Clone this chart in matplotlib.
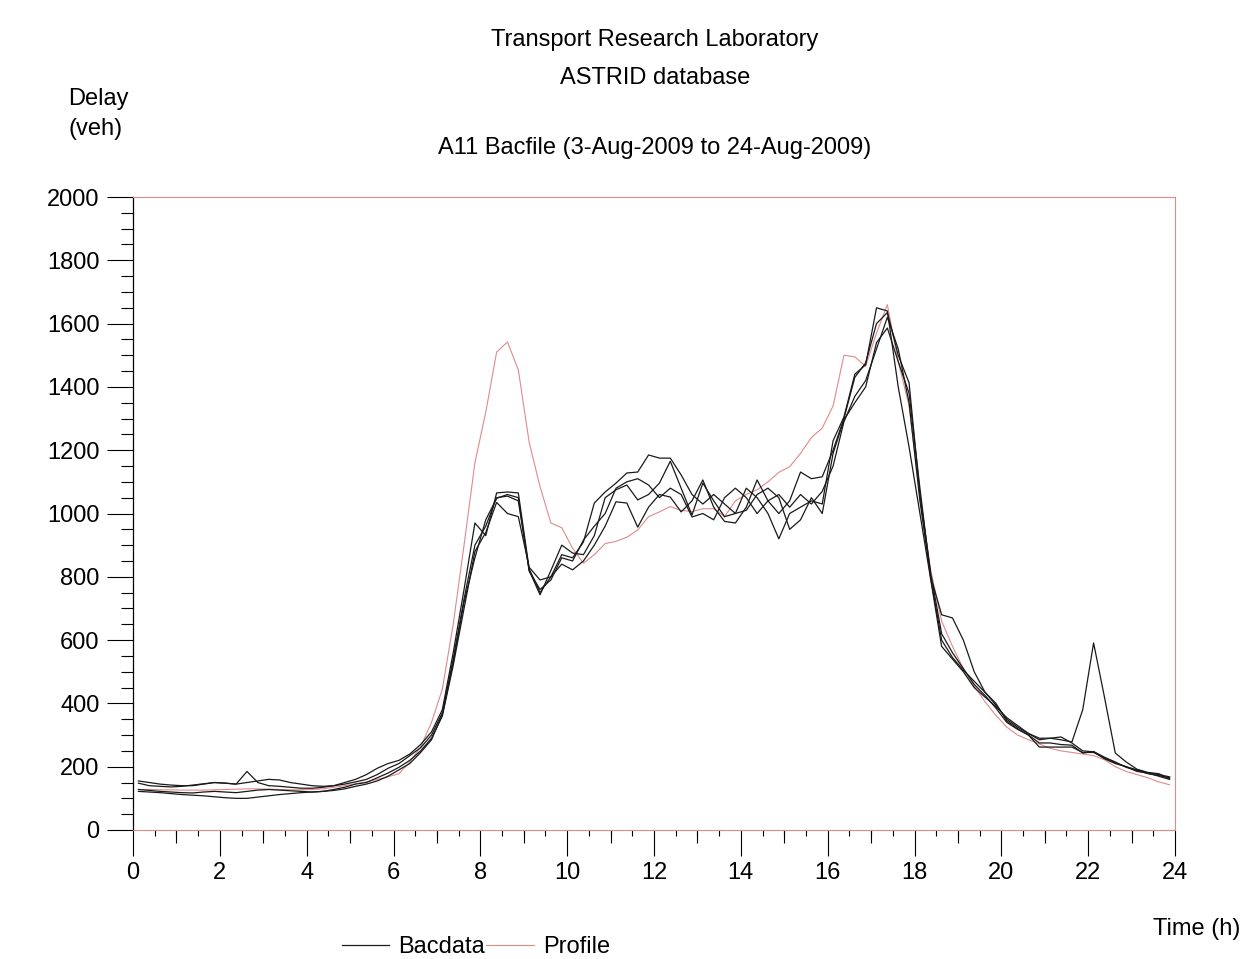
import numpy as np
from matplotlib import pyplot as plt

plt.rcParams['font.family'] = ['Liberation Sans', 'DejaVu Sans']

# 15 minute intervals, mid-points
time_h = np.arange(96) * 0.25 + 0.125

# Bacdata days (delay, veh), four per hour
bac_1 = [155, 150, 145, 142, 140, 140, 145, 150, 148, 145, 185, 150,
         140, 138, 135, 132, 132, 135, 140, 150, 160, 175, 195, 210,
         220, 240, 270, 310, 380, 560, 760, 970, 930, 1065, 1068, 1065,
         825, 750, 800, 870, 860, 910, 1033, 1068, 1096, 1128, 1131, 1185,
         1175, 1175, 1122, 1060, 1030, 1060, 1030, 1000, 1080, 1050, 1000, 920,
         1000, 1020, 1040, 1030, 1230, 1305, 1440, 1470, 1650, 1640, 1400, 1210,
         1000, 790, 580, 540, 500, 450, 420, 390, 355, 330, 305, 290,
         290, 294, 275, 250, 247, 225, 210, 200, 190, 180, 175, 168]
bac_2 = [148, 140, 138, 136, 138, 142, 146, 150, 148, 145, 150, 155,
         160, 158, 150, 145, 140, 138, 140, 145, 152, 160, 175, 195,
         210, 235, 260, 300, 370, 540, 730, 900, 960, 1050, 1055, 1040,
         820, 743, 820, 900, 875, 870, 930, 1050, 1075, 1090, 1043, 1060,
         1096, 1165, 1080, 995, 1096, 1040, 990, 1000, 1010, 1060, 1080, 1050,
         950, 980, 1050, 1000, 1190, 1296, 1350, 1400, 1540, 1586, 1480, 1380,
         1080, 800, 680, 670, 600, 500, 435, 400, 345, 320, 300, 262,
         262, 262, 262, 245, 245, 228, 212, 200, 185, 180, 170, 160]
bac_3 = [128, 125, 122, 120, 118, 117, 120, 122, 120, 118, 122, 126,
         128, 126, 124, 122, 120, 122, 128, 135, 145, 150, 165, 180,
         198, 220, 250, 290, 360, 520, 700, 880, 940, 1035, 1000, 990,
         830, 790, 800, 840, 822, 850, 900, 960, 1037, 1033, 957, 1020,
         1060, 1052, 1005, 1040, 1106, 1020, 975, 970, 1020, 1106, 1040, 1000,
         1040, 1131, 1110, 1116, 1200, 1300, 1430, 1476, 1600, 1635, 1500, 1413,
         1060, 810, 620, 560, 510, 460, 425, 385, 340, 318, 300, 275,
         275, 270, 268, 243, 248, 230, 215, 198, 188, 178, 172, 165]
bac_4 = [122, 120, 118, 115, 112, 110, 108, 105, 102, 100, 100, 104,
         108, 112, 115, 118, 120, 122, 125, 130, 138, 145, 155, 170,
         190, 210, 245, 285, 365, 530, 720, 860, 980, 1048, 1060, 1050,
         818, 760, 790, 860, 850, 916, 960, 1000, 1080, 1100, 1110, 1090,
         1050, 1080, 1060, 989, 1000, 980, 1050, 1080, 1050, 1000, 1040, 1060,
         1020, 1060, 1030, 1070, 1150, 1290, 1370, 1420, 1520, 1620, 1520, 1350,
         1040, 795, 600, 545, 505, 470, 435, 395, 350, 325, 305, 285,
         290, 285, 278, 380, 591, 420, 243, 215, 192, 182, 178, 162]

profile = [128, 128, 127, 127, 126, 126, 126, 127, 128, 129, 130, 130,
           129, 128, 127, 127, 128, 130, 135, 140, 146, 152, 160, 168,
           178, 215, 262, 340, 445, 650, 900, 1160, 1320, 1510, 1542, 1454,
           1225, 1085, 970, 955, 890, 843, 870, 905, 912, 925, 948, 990,
           1005, 1022, 1010, 1006, 1015, 1015, 990, 1040, 1060, 1075, 1100, 1130,
           1148, 1190, 1240, 1270, 1340, 1500, 1495, 1465, 1570, 1660, 1480, 1340,
           1050, 820, 660, 580, 510, 455, 405, 362, 325, 300, 285, 272,
           258, 250, 245, 240, 235, 222, 200, 185, 175, 165, 152, 143]

bacdata = [bac_1, bac_2, bac_3, bac_4]

color_black = '#1a1a1a'
color_red = '#e08a8a'
W, H = 1249, 959

fig = plt.figure(figsize=(W / 100, H / 100), dpi=100)
ax = fig.add_axes([133 / W, 1 - 830 / H, (1175 - 133) / W, (830 - 197) / H])

for i, day in enumerate(bacdata):
    ax.plot(time_h, day, color=color_black, linewidth=0.9,
            label='Bacdata' if i == 0 else None, zorder=3)
ax.plot(time_h, profile, color=color_red, linewidth=0.8, label='Profile', zorder=2)

ax.set_xlim(0, 24)
ax.set_ylim(0, 2000)

# axes frame
ax.spines['left'].set_color('black')
for s in ['top', 'right', 'bottom']:
    ax.spines[s].set_color(color_red)
    ax.spines[s].set_linewidth(0.8)
ax.spines['left'].set_linewidth(0.9)

# y ticks
ax.set_yticks(np.arange(0, 2001, 200))
ax.set_yticks(np.arange(0, 2001, 50), minor=True)
ax.tick_params(axis='y', which='major', direction='out', length=19, width=0.8,
               labelsize=17, pad=5)
ax.tick_params(axis='y', which='minor', direction='out', length=9, width=0.8)

# x ticks: long at even hours, short at half hours
ax.set_xticks(np.arange(0, 25, 2))
ax.set_xticks(np.arange(0.5, 24, 0.5), minor=True)
ax.tick_params(axis='x', which='major', direction='out', length=19, width=0.8,
               labelsize=17, pad=4)
ax.tick_params(axis='x', which='minor', direction='out', length=4.5, width=0.8)

# medium ticks at odd hours
sec = ax.secondary_xaxis('bottom')
sec.set_xticks(np.arange(1, 24, 2))
sec.set_xticklabels([])
sec.tick_params(axis='x', direction='out', length=9, width=0.8)
sec.spines['bottom'].set_visible(False)

# texts
fig.text(655 / W, 1 - 40 / H, 'Transport Research Laboratory', ha='center', va='center', fontsize=17)
fig.text(655 / W, 1 - 78 / H, 'ASTRID database', ha='center', va='center', fontsize=17)
fig.text(655 / W, 1 - 148 / H, 'A11 Bacfile (3-Aug-2009 to 24-Aug-2009)', ha='center', va='center', fontsize=17)
fig.text(68 / W, 1 - 99 / H, 'Delay', ha='left', va='center', fontsize=17)
fig.text(68 / W, 1 - 129 / H, '(veh)', ha='left', va='center', fontsize=17)
fig.text(1240 / W, 1 - 929 / H, 'Time (h)', ha='right', va='center', fontsize=17)

fig.legend(loc='center', bbox_to_anchor=(476 / W, 1 - 947 / H), ncol=2, frameon=False,
           fontsize=17, handlelength=2.0, handletextpad=0.4, columnspacing=0.05,
           borderpad=0)

fig.savefig('out.png', dpi=100, facecolor='white')
